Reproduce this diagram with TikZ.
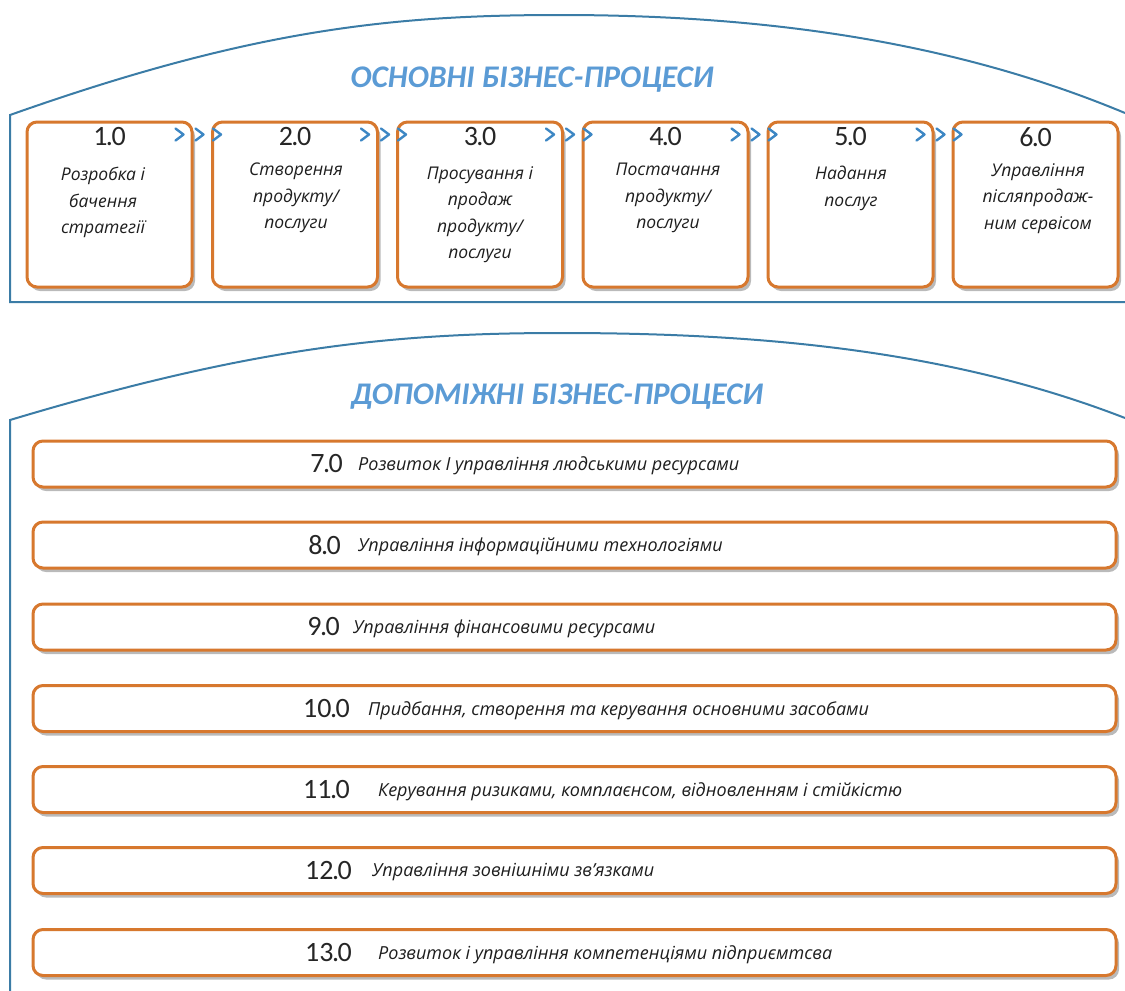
\documentclass[tikz,border=0pt]{standalone}
\usepackage{fontspec}
\setmainfont{Open Sans}
\newfontfamily\numfont{Carlito}
\newfontfamily\ttlfont{Carlito}
\usetikzlibrary{shadows,calc}
\definecolor{orng}{HTML}{D7782E}
\definecolor{frameblue}{HTML}{3B7CA6}
\definecolor{titleblue}{HTML}{5B9BD5}
\definecolor{chevblue}{HTML}{3D87C4}
\definecolor{numgray}{HTML}{262626}
\definecolor{txtgray}{HTML}{1E1E1E}
\begin{document}
\begin{tikzpicture}[x=1pt,y=-1pt,
  frame/.style={draw=frameblue,line width=2pt},
  pbox/.style={draw=orng,line width=3pt,fill=white,rounded corners=10pt,
    minimum width=165pt,minimum height=165pt,inner sep=0pt,
    drop shadow={shadow xshift=3pt,shadow yshift=-4pt,fill=black!60,opacity=0.45}},
  abar/.style={draw=orng,line width=3pt,fill=white,rounded corners=10pt,
    minimum width=1083pt,minimum height=46pt,inner sep=0pt,
    drop shadow={shadow xshift=3pt,shadow yshift=-4pt,fill=black!60,opacity=0.45}},
  ttl/.style={font=\ttlfont\fontsize{31.5}{31.5}\selectfont\bfseries\itshape,text=titleblue,inner sep=0pt},
  num/.style={font=\numfont\fontsize{28}{28}\selectfont,text=numgray,inner sep=0pt},
  btext/.style={font=\fontsize{17.5}{26.5}\selectfont\itshape,text=txtgray,align=center,inner sep=0pt},
  bartext/.style={font=\fontsize{18}{20}\selectfont\itshape,text=txtgray,inner sep=0pt,anchor=west},
  chev/.style={draw=chevblue,line width=2.4pt,line cap=round,line join=round}
]
\useasboundingbox (0,0) rectangle (1125,991);

% ---- top frame
\coordinate (tl) at (10,115);
\coordinate (tpk) at (560,15);
\coordinate (tr) at (1125,113);
\coordinate (tbl) at (10,302);
\coordinate (tbr) at (1125,302);
\draw[frame] (tr) .. controls (950,40) and (760,15) .. (tpk)
  .. controls (390,15) and (250,30) .. (tl) -- (tbl) -- (tbr);
\node[ttl] (title1) at (532,80) {ОСНОВНІ БІЗНЕС-ПРОЦЕСИ};

% ---- main process boxes
\foreach \i/\x in {1/109.5,2/295,3/480,4/665.5,5/850.5,6/1035.5}{
  \node[pbox] (b\i) at (\x,204.5) {};
  \node[num] (n\i) at (\x,137) {\i\kern-1.5pt.\kern-1.5pt0};
}
\node[btext,anchor=north] (t1) at (103,167) {Розробка і\\бачення\\стратегії};
\node[btext,anchor=north] (t2) at (296,163) {Створення\\продукту/\\послуги};
\node[btext,anchor=north] (t3) at (480,166) {Просування і\\продаж\\продукту/\\послуги};
\node[btext,anchor=north] (t4) at (668,163) {Постачання\\продукту/\\послуги};
\node[btext,anchor=north] (t5) at (851,166) {Надання\\послуг};
\node[btext,anchor=north] (t6) at (1038,163) {Управління\\післяпродаж-\\ним сервісом};

% ---- chevron connectors
\foreach \a/\b in {b1/b2,b2/b3,b3/b4,b4/b5,b5/b6}{
  \foreach \dx in {-14,6}{
    \draw[chev] ($(\a.north east)+(\dx-4,8)$) -- ++(8,6) -- ++(-8,6);
  }
  \draw[chev] ($(\b.north west)+(2,8)$) -- ++(8,6) -- ++(-8,6);
}

% ---- bottom frame
\coordinate (bl) at (10,420);
\coordinate (bpk) at (560,333);
\coordinate (br) at (1125,418);
\coordinate (bbl) at (10,991);
\draw[frame] (br) .. controls (950,350) and (760,333) .. (bpk)
  .. controls (390,333) and (250,348) .. (bl) -- (bbl);
\node[ttl] (title2) at (557,397) {ДОПОМІЖНІ БІЗНЕС-ПРОЦЕСИ};

% ---- supporting process bars
\foreach \i/\y/\ne/\ts/\txt in {
  7/464/343/358/{Розвиток І управління людськими ресурсами},
  8/545/341/358/{Управління інформаційними технологіями},
  9/627/340/353/{Управління фінансовими ресурсами},
  10/708.5/350/368/{Придбання, створення та керування основними засобами},
  11/789.5/350/378/{Керування ризиками, комплаєнсом, відновленням і стійкістю},
  12/870.5/352/372/{Управління зовнішніми зв’язками},
  13/952.5/352/378/{Розвиток і управління компетенціями підприємтсва}}{
  \node[abar] (s\i) at (574.5,\y) {};
  \node[num,anchor=east] (sn\i) at (\ne,\y) {\i\kern-1.5pt.\kern-1.5pt0};
  \node[bartext] (st\i) at (\ts,\y+2) {\txt};
}
\end{tikzpicture}
\end{document}
